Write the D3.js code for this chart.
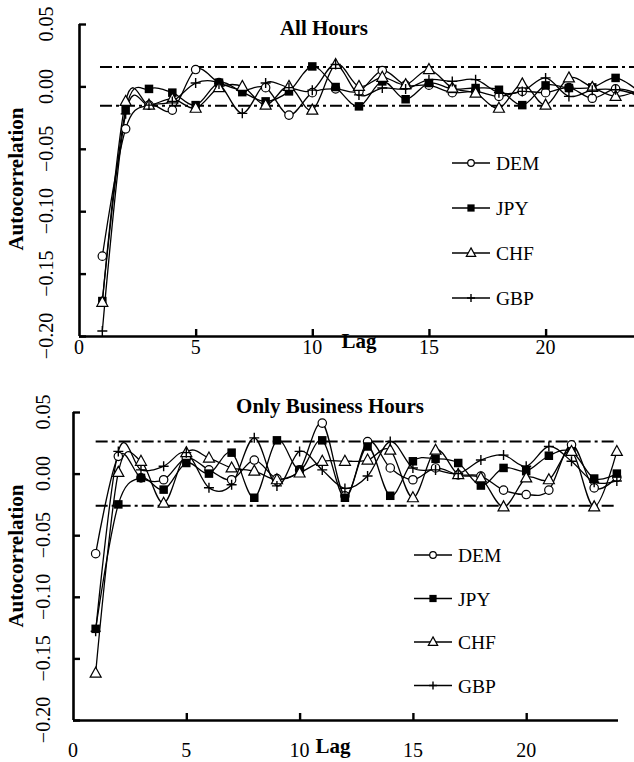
<!DOCTYPE html>
<html>
<head>
<meta charset="utf-8">
<script src="https://cdn.jsdelivr.net/npm/d3@7"></script>
<style>
  body { margin: 0; background: #fff; }
  svg { display: block; font-family: "Liberation Serif", "Times New Roman", serif; }
</style>
</head>
<body>
<svg id="chart" width="634" height="762"></svg>
<script>
// lags 1..24
const lags = d3.range(1, 25);
const seriesNames = ["DEM", "JPY", "CHF", "GBP"];
const yTicks = [-0.2, -0.15, -0.1, -0.05, 0, 0.05];
const xTicks = [0, 5, 10, 15, 20];

// All Hours
const allDEM = [-0.136, -0.034, -0.015, -0.019, 0.0135, 0.003, -0.003, -0.001, -0.023, -0.005, -0.002, -0.004,
  0.0127, 0.001, 0.001, -0.005, -0.004, -0.008, -0.004, -0.005, -0.001, -0.0095, -0.002, -0.006];
const allJPY = [-0.172, -0.019, -0.002, -0.005, -0.015, 0.003, -0.0046, -0.012, -0.004, 0.016, -0.0005, -0.016,
  0.004, -0.0103, 0.0027, -0.002, -0.0013, -0.0027, -0.015, 0.0008, -0.0013, -0.0008, 0.0068, -0.004];
const allCHF = [-0.173, -0.012, -0.015, -0.010, -0.0175, -0.001, 0.0, -0.015, 0.0, -0.019, 0.0176, 0.0,
  0.0073, 0.0014, 0.0135, -0.0013, -0.0054, -0.0175, 0.002, -0.015, 0.0068, -0.0008, -0.008, -0.003];
const allGBP = [-0.196, -0.022, -0.015, -0.012, 0.0027, 0.002, -0.0216, 0.0027, -0.001, -0.003, 0.0176, -0.0068,
  -0.0013, -0.002, 0.0054, 0.004, 0.0054, -0.005, -0.004, 0.0068, -0.008, -0.003, -0.0027, -0.007];
const allBand = 0.0155;

// Only Business Hours
const busDEM = [-0.065, 0.014, -0.0035, -0.005, 0.0126, 0.003, -0.005, 0.011, -0.004, 0.003, 0.041, -0.018,
  0.026, 0.0046, -0.005, 0.0046, -0.001, -0.002, -0.0134, -0.017, -0.0134, 0.0234, -0.0116, -0.003];
const busJPY = [-0.126, -0.025, -0.0035, -0.013, 0.0086, 0.0, 0.017, -0.0196, 0.027, 0.003, 0.027, -0.0196,
  0.022, -0.018, 0.01, 0.012, 0.0086, -0.0097, 0.0046, 0.002, 0.0145, 0.018, -0.004, 0.0];
const busCHF = [-0.162, 0.001, 0.01, -0.024, 0.017, 0.0126, 0.0046, 0.002, -0.005, 0.0005, 0.01, 0.01,
  0.011, 0.019, -0.0196, 0.019, -0.0008, -0.0035, -0.027, -0.0035, -0.005, 0.018, -0.027, 0.018];
const busGBP = [-0.128, 0.018, 0.003, 0.006, 0.017, -0.0115, -0.009, 0.029, -0.01, 0.018, 0.003, -0.012,
  -0.002, 0.026, 0.0046, 0.003, 0.0, 0.011, 0.015, 0.006, 0.022, 0.01, -0.007, -0.006];
const busBand = 0.026;

const svg = d3.select("#chart");

function drawMarker(g, name, x, y, legend) {
  const k = legend ? 0.85 : 1;
  if (name === "DEM") {
    g.append("circle").attr("cx", x).attr("cy", y).attr("r", (legend ? 3.3 : 4.2))
      .attr("fill", "#fff").attr("stroke", "#000").attr("stroke-width", 1.2);
  } else if (name === "JPY") {
    const s = 8.5 * k;
    g.append("rect").attr("x", x - s / 2).attr("y", y - s / 2).attr("width", s).attr("height", s)
      .attr("fill", "#000");
  } else if (name === "CHF") {
    const w = 11 * k, h = 10 * k;
    g.append("path")
      .attr("d", `M${x},${y - h * 0.6}L${x + w / 2},${y + h * 0.4}L${x - w / 2},${y + h * 0.4}Z`)
      .attr("fill", "#fff").attr("stroke", "#000").attr("stroke-width", 1.2);
  } else {
    const s = legend ? 4 : 5;
    g.append("path")
      .attr("d", `M${x - s},${y}H${x + s}M${x},${y - s}V${y + s}`)
      .attr("stroke", "#000").attr("stroke-width", 1.4);
  }
}

function drawPanel(opt) {
  const g = svg.append("g");
  const x = d3.scaleLinear().domain([0, 24]).range([opt.left, opt.left + 24 * opt.step]);
  const y = d3.scaleLinear().domain([-0.2, 0.05]).range([opt.bottom, opt.top]);

  // axes
  const yAxis = g.append("g").attr("transform", `translate(${opt.left},0)`)
    .call(d3.axisRight(y).tickValues(yTicks).tickSize(7).tickFormat(""));
  yAxis.select(".domain").attr("d", `M0.5,${opt.top}V${opt.bottom}`);
  const xAxis = g.append("g").attr("transform", `translate(0,${opt.bottom})`)
    .call(d3.axisTop(x).tickValues(xTicks.slice(1)).tickSize(7).tickFormat(""));
  xAxis.select(".domain").attr("d", `M${opt.left},0.5H${opt.xEnd}`);
  g.selectAll(".domain").attr("stroke", "#000").attr("stroke-width", 2.6);
  g.selectAll(".tick line").attr("stroke", "#000").attr("stroke-width", 2.4);

  // tick labels
  g.selectAll(".ylab").data(yTicks).join("text")
    .attr("transform", d => `translate(${opt.left - opt.yLabOff},${y(d)}) rotate(-90)`)
    .attr("text-anchor", "middle").attr("font-size", 20)
    .text(d => d3.format(".2f")(d));
  g.selectAll(".xlab").data(xTicks).join("text")
    .attr("x", d => x(d)).attr("y", opt.bottom + opt.xLabOff)
    .attr("text-anchor", "middle").attr("font-size", 20)
    .text(d => d);

  g.append("text").attr("x", opt.lagX).attr("y", opt.bottom + opt.lagOff)
    .attr("text-anchor", "middle").attr("font-size", 21).attr("font-weight", "bold").text("Lag");
  g.append("text")
    .attr("transform", `translate(23,${opt.yTitleY}) rotate(-90)`)
    .attr("text-anchor", "middle").attr("font-size", 21).attr("font-weight", "bold")
    .text("Autocorrelation");
  g.append("text").attr("x", opt.titleX).attr("y", opt.titleY)
    .attr("text-anchor", "middle").attr("font-size", 21).attr("font-weight", "bold")
    .text(opt.title);

  // confidence bands
  [opt.band, -opt.band].forEach(b => {
    g.append("line").attr("x1", x(opt.bandFrom)).attr("x2", x(opt.bandTo))
      .attr("y1", y(b)).attr("y2", y(b))
      .attr("stroke", "#000").attr("stroke-width", 2)
      .attr("stroke-dasharray", "12,4,3,4");
  });

  // series
  const line = d3.line().x((d, i) => x(lags[i])).y(d => y(d)).curve(d3.curveCardinal.tension(0));
  opt.series.forEach((vals, si) => {
    g.append("path").attr("d", line(vals)).attr("fill", "none")
      .attr("stroke", "#000").attr("stroke-width", 1.3);
  });
  opt.series.forEach((vals, si) => {
    const mg = g.append("g");
    vals.forEach((v, i) => drawMarker(mg, seriesNames[si], x(lags[i]), y(v), false));
  });

  // legend
  seriesNames.forEach((name, i) => {
    const ly = opt.legY + i * opt.legStep;
    const lg = g.append("g");
    lg.append("line").attr("x1", opt.legX).attr("x2", opt.legX + 38)
      .attr("y1", ly).attr("y2", ly).attr("stroke", "#000").attr("stroke-width", 1.4);
    drawMarker(lg, name, opt.legX + 19, ly, true);
    lg.append("text").attr("x", opt.legX + 44).attr("y", ly + 7)
      .attr("font-size", 19.5).text(name);
  });
}

drawPanel({
  title: "All Hours", titleX: 324, titleY: 35,
  left: 79, step: 23.33, top: 24, bottom: 336, xEnd: 634,
  yLabOff: 26, xLabOff: 18, lagX: 359, lagOff: 12, yTitleY: 179,
  band: allBand, bandFrom: 0.9, bandTo: 24,
  series: [allDEM, allJPY, allCHF, allGBP],
  legX: 452, legY: 163, legStep: 45
});

drawPanel({
  title: "Only Business Hours", titleX: 330, titleY: 413,
  left: 73, step: 22.66, top: 412, bottom: 720, xEnd: 618,
  yLabOff: 23, xLabOff: 37, lagX: 333, lagOff: 33, yTitleY: 556,
  band: busBand, bandFrom: 1, bandTo: 24,
  series: [busDEM, busJPY, busCHF, busGBP],
  legX: 414, legY: 555, legStep: 43.5
});
</script>
</body>
</html>
